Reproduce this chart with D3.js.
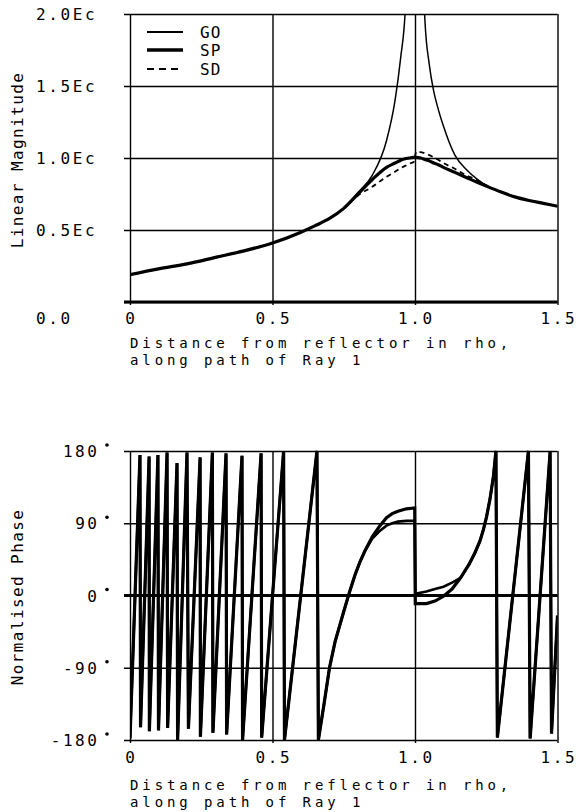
<!DOCTYPE html>
<html>
<head>
<meta charset="utf-8">
<script src="https://cdn.jsdelivr.net/npm/d3@7"></script>
<style>
body { margin: 0; background: #fff; }
text { font-family: "DejaVu Sans Mono", monospace; font-size: 16px; fill: #000; }
</style>
</head>
<body>
<svg id="graph" width="576" height="812"></svg>
<script>
// magnitude plot (top)
var magDist = [0, 0.1, 0.2, 0.3, 0.4, 0.5, 0.6, 0.65, 0.7, 0.75, 0.8, 0.85, 0.9, 0.93, 0.95, 0.965, 0.98, 0.995,
               1.005, 1.02, 1.035, 1.05, 1.065, 1.08, 1.1, 1.14, 1.18, 1.22, 1.25, 1.3, 1.35, 1.4, 1.45, 1.5];
var magGO = [0.19, 0.23, 0.265, 0.31, 0.355, 0.41, 0.485, 0.53, 0.58, 0.65, 0.76, 0.88, 1.12, 1.40, 1.70, 2.0, 2.8, 6,
             6, 2.8, 1.95, 1.65, 1.47, 1.35, 1.22, 1.02, 0.92, 0.85, 0.81, 0.765, 0.73, 0.705, 0.685, 0.665];
var magSP = [0.19, 0.23, 0.265, 0.31, 0.355, 0.41, 0.485, 0.53, 0.58, 0.65, 0.75, 0.85, 0.935, 0.965, 0.985, 0.995, 1.0, 1.005,
             1.005, 1.0, 0.99, 0.98, 0.965, 0.955, 0.935, 0.9, 0.865, 0.83, 0.805, 0.765, 0.73, 0.705, 0.685, 0.665];
var magSD = [0.19, 0.23, 0.265, 0.31, 0.355, 0.41, 0.485, 0.53, 0.58, 0.65, 0.74, 0.80, 0.87, 0.905, 0.93, 0.945, 0.96, 0.972,
             1.045, 1.04, 1.032, 1.02, 1.005, 0.99, 0.965, 0.925, 0.88, 0.845, 0.81, 0.765, 0.73, 0.705, 0.685, 0.665];
var magTicks = [0, 0.5, 1.0, 1.5, 2.0];
var magLabels = ["0.0", "0.5Ec", "1.0Ec", "1.5Ec", "2.0Ec"];

// phase plot (bottom)
var phaseDist = [0, 0.035, 0.037, 0.067, 0.068, 0.098, 0.100, 0.130, 0.132, 0.165, 0.167, 0.200, 0.205,
                 0.246, 0.247, 0.289, 0.291, 0.337, 0.339, 0.393, 0.395, 0.460, 0.462, 0.539, 0.542, 0.656, 0.661,
                 0.68, 0.70, 0.72, 0.737, 0.75, 0.77, 0.79, 0.807, 0.825, 0.85, 0.875, 0.90, 0.92, 0.94, 0.97, 0.999,
                 1.001, 1.04, 1.07, 1.10, 1.13, 1.16, 1.19, 1.21, 1.228, 1.24, 1.251, 1.263, 1.275, 1.284,
                 1.289, 1.398, 1.404, 1.474, 1.479, 1.5];
var phaseSP = [-178, 175, -164, 173, -169, 175, -168, 178, -165, 165, -180, 178, -166,
               172, -176, 178, -171, 177, -173, 174, -180, 177, -177, 180, -180, 180, -180,
               -137, -90, -57, -36, -20, 4, 26, 42, 56, 73, 86, 97, 102, 105, 108, 109,
               -10, -10, -7, -1, 8, 22, 39, 53, 68, 82, 98, 120, 148, 180,
               -177, 180, -178, 179, -172, -25];
var phaseGO = [-178, 175, -164, 173, -169, 175, -168, 178, -165, 165, -180, 178, -166,
               172, -176, 178, -171, 177, -173, 174, -180, 177, -177, 180, -180, 180, -180,
               -137, -90, -57, -36, -20, 4, 26, 42, 56, 71, 80, 87, 90, 92, 93, 93,
               2, 5, 8, 11, 16, 22, 39, 53, 68, 82, 98, 120, 148, 180,
               -177, 180, -178, 179, -172, -25];
var phaseTicks = [-180, -90, 0, 90, 180];

var distTicks = [0, 0.5, 1.0, 1.5];
var distLabels = ["0", "0.5", "1.0", "1.5"];
var legendNames = ["GO", "SP", "SD"];

var svg = d3.select("#graph");
var ls = 2.6; // letter spacing of the plotter font

var x = d3.scaleLinear().domain([0, 1.5]).range([130, 557.5]);
var yMag = d3.scaleLinear().domain([0, 2]).range([302, 14]);
var yPh = d3.scaleLinear().domain([-180, 180]).range([740, 451]);

function drawFrame(y, ticks, zero) {
    var w = x(1.5) - x(0);
    var h = y.range()[0] - y.range()[1];
    var gy = svg.append("g")
        .attr("transform", "translate(" + (x(0) - 6) + ",0)")
        .call(d3.axisLeft(y).tickValues(ticks).tickSize(-(w + 6)).tickFormat(""));
    gy.select(".domain").remove();
    gy.selectAll("line").attr("stroke", "#000").attr("stroke-width", 1.4);

    var gx = svg.append("g")
        .attr("transform", "translate(0," + (y.range()[0] + 3) + ")")
        .call(d3.axisBottom(x).tickValues(distTicks).tickSize(-(h + 3)).tickFormat(""));
    gx.select(".domain").remove();
    gx.selectAll("line").attr("stroke", "#000").attr("stroke-width", 1.4);

    svg.append("line")
        .attr("x1", x(0) - 6).attr("x2", x(1.5))
        .attr("y1", y(zero)).attr("y2", y(zero))
        .attr("stroke", "#000").attr("stroke-width", 2.8);
}

function xLabels(yBase, line1y) {
    svg.append("g").selectAll("text")
        .data(distLabels)
        .enter().append("text")
        .attr("x", (d, i) => x(distTicks[i]) + ls / 2)
        .attr("y", yBase)
        .attr("text-anchor", "middle")
        .attr("letter-spacing", ls)
        .text(d => d);
    svg.append("text").attr("x", 130).attr("y", line1y)
        .style("font-size", "14px")
        .attr("letter-spacing", 3.9).text("Distance from reflector in rho,");
    svg.append("text").attr("x", 130).attr("y", line1y + 16.5)
        .style("font-size", "14px")
        .attr("letter-spacing", 3.9).text("along path of Ray 1");
}

// ---------- top: linear magnitude ----------
svg.append("clipPath").attr("id", "clipTop")
    .append("rect").attr("x", x(0)).attr("y", yMag(2)).attr("width", x(1.5) - x(0)).attr("height", yMag(0) - yMag(2));

drawFrame(yMag, magTicks, 0);

var lineMag = function (vals) {
    return d3.line().curve(d3.curveMonotoneX).x((d, i) => x(magDist[i])).y(d => yMag(d))(vals);
};
var gTop = svg.append("g").attr("clip-path", "url(#clipTop)");
gTop.append("path").attr("d", lineMag(magGO)).attr("fill", "none").attr("stroke", "#000").attr("stroke-width", 1.5);
gTop.append("path").attr("d", lineMag(magSD)).attr("fill", "none").attr("stroke", "#000").attr("stroke-width", 1.8)
    .attr("stroke-dasharray", "5,4");
gTop.append("path").attr("d", lineMag(magSP)).attr("fill", "none").attr("stroke", "#000").attr("stroke-width", 3.2);

svg.append("g").selectAll("text")
    .data(magLabels)
    .enter().append("text")
    .attr("x", 36)
    .attr("y", (d, i) => i == 0 ? 324 : yMag(magTicks[i]) + 6)
    .attr("letter-spacing", ls)
    .text(d => d);

xLabels(324, 348);

svg.append("text")
    .attr("transform", "translate(23,160) rotate(-90)")
    .attr("text-anchor", "middle")
    .attr("letter-spacing", 1.4)
    .text("Linear Magnitude");

// legend
var legW = [1.8, 3.4, 1.8];
var legY = [32, 50, 69];
var leg = svg.append("g");
legendNames.forEach(function (name, i) {
    leg.append("line")
        .attr("x1", 147).attr("x2", 183).attr("y1", legY[i]).attr("y2", legY[i])
        .attr("stroke", "#000").attr("stroke-width", legW[i])
        .attr("stroke-dasharray", name == "SD" ? "7,5" : null);
    leg.append("text").attr("x", 200).attr("y", legY[i] + 6)
        .attr("letter-spacing", 1).text(name);
});

// ---------- bottom: normalised phase ----------
svg.append("clipPath").attr("id", "clipBot")
    .append("rect").attr("x", x(0)).attr("y", yPh(180) - 2).attr("width", x(1.5) - x(0)).attr("height", yPh(-180) - yPh(180) + 4);

drawFrame(yPh, phaseTicks, 0);

var linePh = function (vals) {
    return d3.line().x((d, i) => x(phaseDist[i])).y(d => yPh(d))(vals);
};
var gBot = svg.append("g").attr("clip-path", "url(#clipBot)");
gBot.append("path").attr("d", linePh(phaseGO)).attr("fill", "none").attr("stroke", "#000")
    .attr("stroke-width", 2.6).attr("stroke-linejoin", "miter");
gBot.append("path").attr("d", linePh(phaseSP)).attr("fill", "none").attr("stroke", "#000")
    .attr("stroke-width", 3.2).attr("stroke-linejoin", "miter");

var phLab = svg.append("g").selectAll("g")
    .data(phaseTicks)
    .enter().append("g");
phLab.append("text")
    .attr("x", 97 + ls)
    .attr("y", d => yPh(d) + 6)
    .attr("text-anchor", "end")
    .attr("letter-spacing", ls)
    .text(d => d);
phLab.append("circle")
    .attr("cx", 107).attr("cy", d => yPh(d) - 6).attr("r", 1.8).attr("fill", "#000");

xLabels(763, 790);

svg.append("text")
    .attr("transform", "translate(23,597) rotate(-90)")
    .attr("text-anchor", "middle")
    .attr("letter-spacing", 1.4)
    .text("Normalised Phase");
</script>
</body>
</html>
